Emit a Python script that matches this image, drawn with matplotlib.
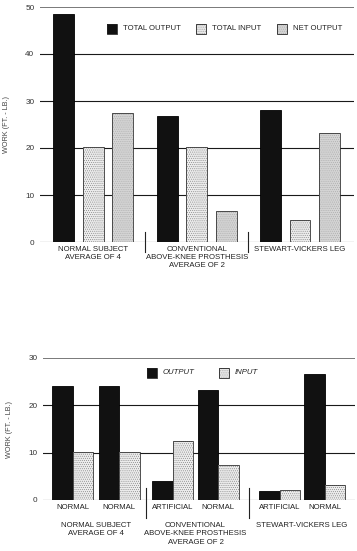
import matplotlib
matplotlib.use("Agg")
from matplotlib import pyplot as plt
from matplotlib.patches import Rectangle
import numpy as np

# --- data ---
top_groups = ["NORMAL SUBJECT\nAVERAGE OF 4",
              "CONVENTIONAL\nABOVE-KNEE PROSTHESIS\nAVERAGE OF 2",
              "STEWART-VICKERS LEG"]
top_total_output = [48.5, 26.9, 28.1]
top_total_input = [20.3, 20.2, 4.7]
top_net_output = [27.5, 6.7, 23.1]
top_series = ["TOTAL OUTPUT", "TOTAL INPUT", "NET OUTPUT"]

bot_limbs = ["NORMAL", "NORMAL", "ARTIFICIAL", "NORMAL", "ARTIFICIAL", "NORMAL"]
bot_output = [24.0, 24.0, 4.0, 23.3, 1.8, 26.7]
bot_input = [10.1, 10.1, 12.5, 7.4, 2.2, 3.1]
bot_series = ["OUTPUT", "INPUT"]

y_top_ticks = [0, 10, 20, 30, 40, 50]
y_bot_ticks = [0, 10, 20, 30]
ylabel = "WORK (FT. - LB.)"

W, H = 357, 551
FS = 5.6
plt.rcParams['font.family'] = ['Liberation Sans', 'DejaVu Sans']
plt.rcParams['hatch.linewidth'] = 0.35

fig = plt.figure(figsize=(W / 100, H / 100), dpi=100)

FACES = ["#111111", "#ececec", "#d4d4d4"]
HATCH_C = ["black", "#7a7a7a", "#a8a8a8"]


def ax_box(left, top, right, bottom):
    return [left / W, 1 - bottom / H, (right - left) / W, (bottom - top) / H]


def fig_xy(x, y):
    return x / W, 1 - y / H


def fancy_bar(ax, x, h, width, kind):
    if kind == 0:
        ax.bar(x, h, width, color=FACES[0], edgecolor="black", linewidth=0.6)
        return
    ax.bar(x, h, width, color=FACES[kind], edgecolor=HATCH_C[kind],
           hatch="........", linewidth=0)
    ax.bar(x, h, width, fill=False, edgecolor="#333333", linewidth=0.6)


def legend_square(x, y, kind):
    fx, fy = fig_xy(x, y + 10)
    fig.patches.append(Rectangle((fx, fy), 10 / W, 10 / H, transform=fig.transFigure,
                                 facecolor=FACES[kind], edgecolor=HATCH_C[kind],
                                 hatch=None if kind == 0 else "........", linewidth=0))
    fig.patches.append(Rectangle((fx, fy), 10 / W, 10 / H, transform=fig.transFigure,
                                 fill=False, edgecolor="#222222", linewidth=0.6))


def style_axes(ax, ticks):
    ax.set_yticks(ticks)
    ax.set_yticklabels([str(t) for t in ticks], fontsize=FS + 0.3, color="#333333")
    ax.tick_params(axis="y", length=0, pad=4)
    ax.set_xticks([])
    for s in ax.spines.values():
        s.set_visible(False)
    for t in ticks:
        top = t == ticks[-1]
        ax.axhline(t, color="#555555" if top else "#1a1a1a",
                   linewidth=1.1 if top else 0.8, zorder=0)
    ax.set_ylabel(ylabel, fontsize=FS - 0.4, color="#444444", labelpad=11)


# --- top chart ---
ax1 = fig.add_axes(ax_box(40, 7, 354, 242))
top_vals = [top_total_output, top_total_input, top_net_output]
for g in range(len(top_groups)):
    for k in range(3):
        fancy_bar(ax1, g * 3.5 + k, top_vals[k][g], 0.71, k)
ax1.set_xlim(-0.81, 9.83)
ax1.set_ylim(0, 50)
style_axes(ax1, y_top_ticks)
for g, lab in enumerate(top_groups):
    ax1.text(g * 3.5 + 1, -0.8, lab, ha="center", va="top", fontsize=FS,
             linespacing=1.25, color="#222222")
for g in range(1, len(top_groups)):
    ax1.plot([g * 3.5 - 0.75] * 2, [2.1, -2.1], color="#222222",
             linewidth=0.8, clip_on=False)

for (x, k) in [(107, 0), (196, 1), (277, 2)]:
    legend_square(x, 24, k)
    fig.text(*fig_xy(x + 16, 29), top_series[k], fontsize=FS, va="center",
             color="#222222")

# --- bottom chart ---
ax2 = fig.add_axes(ax_box(43, 358, 355, 500))
pair_pos = np.array([0, 2.27, 4.9, 7.1, 10.1, 12.3])
for i in range(len(bot_limbs)):
    fancy_bar(ax2, pair_pos[i] - 0.5, bot_output[i], 1.0, 0)
    fancy_bar(ax2, pair_pos[i] + 0.5, bot_input[i], 1.0, 1)
ax2.set_xlim(-1.44, 13.78)
ax2.set_ylim(0, 30)
style_axes(ax2, y_bot_ticks)
for i, lab in enumerate(bot_limbs):
    ax2.text(pair_pos[i], -0.9, lab, ha="center", va="top", fontsize=FS,
             color="#222222")
for g, lab in enumerate(top_groups):
    cx = pair_pos[2 * g:2 * g + 2].mean()
    ax2.text(cx, -4.7, lab, ha="center", va="top", fontsize=FS,
             linespacing=1.25, color="#222222")
for g in range(1, 3):
    xd = (pair_pos[2 * g - 1] + pair_pos[2 * g]) / 2
    ax2.plot([xd] * 2, [2.5, -3.8], color="#222222", linewidth=0.8, clip_on=False)

for (x, k) in [(147, 0), (219, 1)]:
    legend_square(x, 368, k)
    fig.text(*fig_xy(x + 16, 373), bot_series[k], fontsize=FS, va="center",
             style="italic", color="#222222")

fig.savefig("out.png", dpi=100)
